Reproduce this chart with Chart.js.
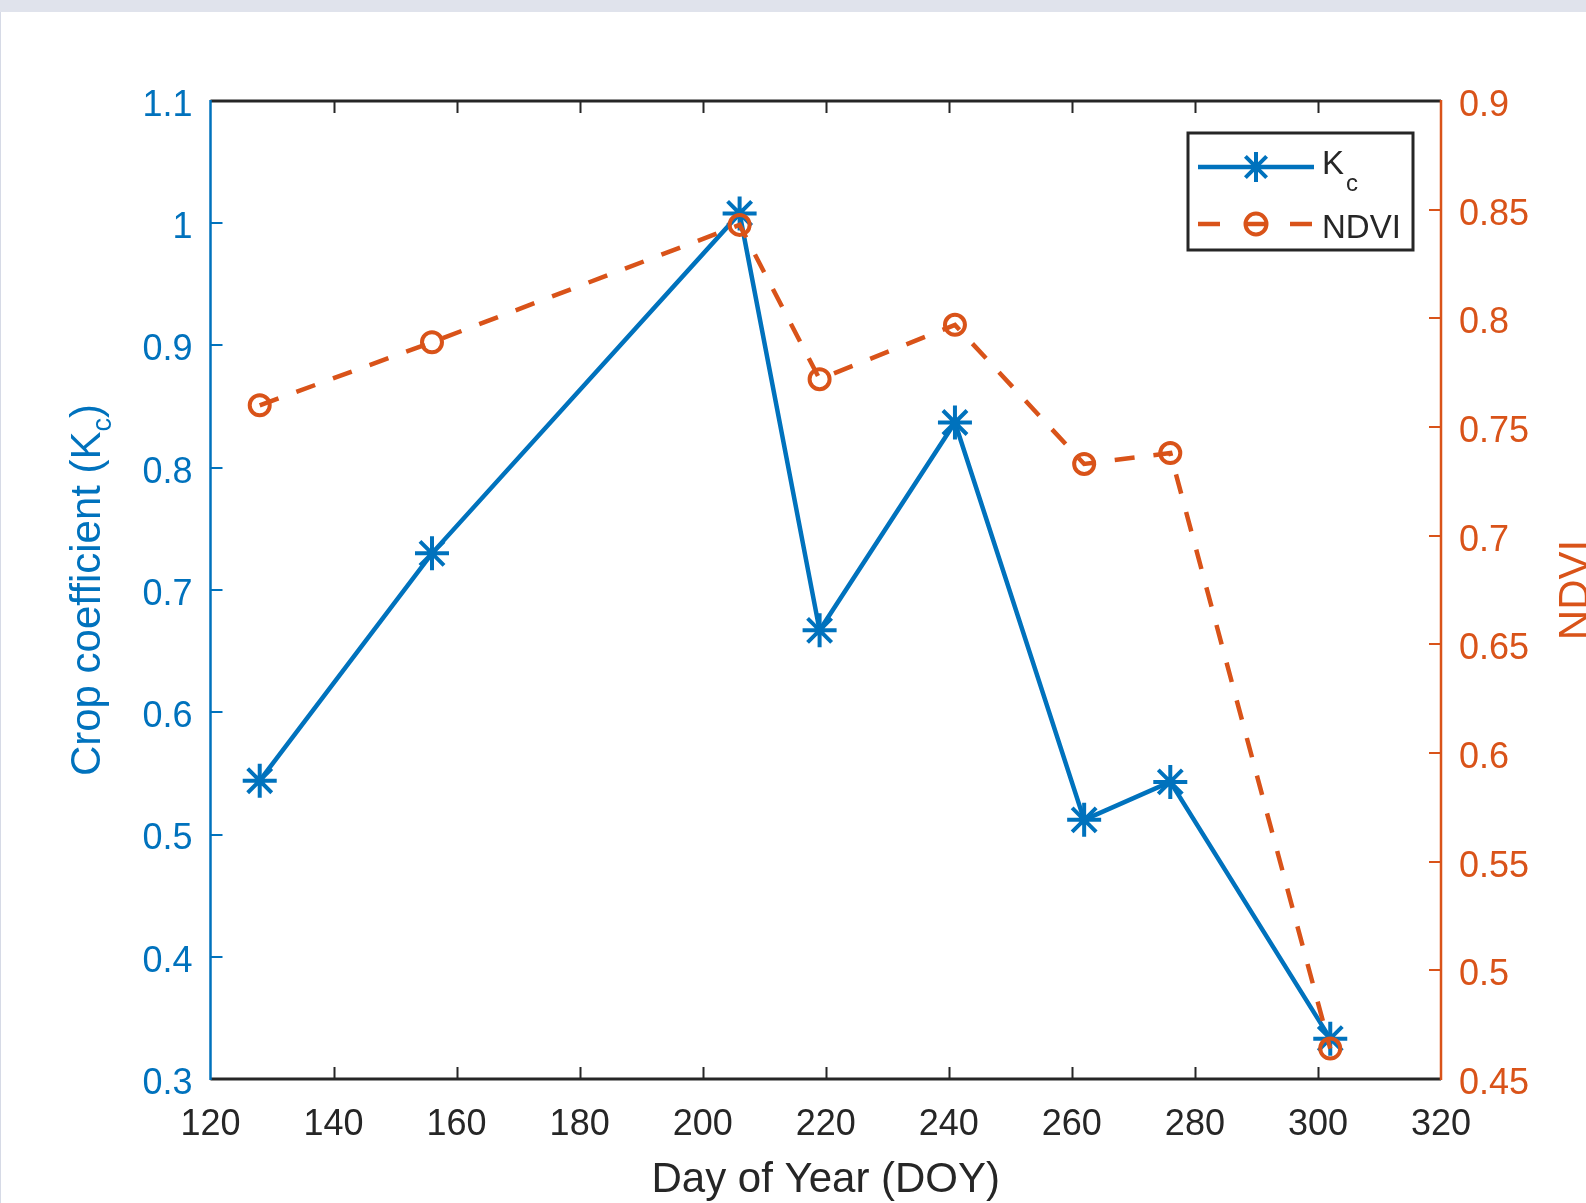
<!DOCTYPE html>
<html>
<head>
<meta charset="utf-8">
<script src="https://cdn.jsdelivr.net/npm/chart.js@4"></script>
<style>
  html, body { margin: 0; padding: 0; background: #fff; }
  #band { position: absolute; left: 0; top: 0; width: 1586px; height: 12px; background: #e0e3ec; }
  #edge { position: absolute; left: 0; top: 12px; width: 1px; height: 1191px; background: #d6dae6; }
  #wrap { position: absolute; left: 0; top: 0; width: 1586px; height: 1203px; }
</style>
</head>
<body>
<div id="band"></div>
<div id="edge"></div>
<div id="wrap"><canvas id="myChart" width="1586" height="1203"></canvas></div>
<script>
// day of year for each observation
const doy = [128, 156, 206, 219, 241, 262, 276, 302];
// crop coefficient (left axis)
const kc = [0.544, 0.730, 1.008, 0.667, 0.837, 0.512, 0.543, 0.333];
// NDVI (right axis)
const ndvi = [0.760, 0.789, 0.843, 0.772, 0.797, 0.733, 0.738, 0.464];

const xTicks = [120, 140, 160, 180, 200, 220, 240, 260, 280, 300, 320];
const kcTicks = [0.3, 0.4, 0.5, 0.6, 0.7, 0.8, 0.9, 1, 1.1];
const ndviTicks = [0.45, 0.5, 0.55, 0.6, 0.65, 0.7, 0.75, 0.8, 0.85, 0.9];

const BLUE = '#0072BD';
const ORANGE = '#D95319';
const DARK = '#262626';
const FONT = "'Liberation Sans', Arial, sans-serif";

// draws text made of pieces (for subscripts)
function drawParts(ctx, parts, x, y) {
  let total = 0;
  parts.forEach(p => {
    ctx.font = p.size + 'px ' + FONT;
    p.w = ctx.measureText(p.t).width;
    total += p.w;
  });
  let cx = x - total / 2;
  ctx.textAlign = 'left';
  ctx.textBaseline = 'alphabetic';
  parts.forEach(p => {
    ctx.font = p.size + 'px ' + FONT;
    ctx.fillText(p.t, cx, y + (p.dy || 0));
    cx += p.w;
  });
}

const matlabAxes = {
  id: 'matlabAxes',
  afterDatasetsDraw(chart) {
    const ctx = chart.ctx;
    const a = chart.chartArea;
    const sx = chart.scales.x, sy = chart.scales.y, sy1 = chart.scales.y1;
    const tl = 12;
    ctx.save();
    ctx.lineCap = 'butt';

    // ticks
    ctx.lineWidth = 2;
    ctx.strokeStyle = DARK;
    xTicks.forEach(v => {
      const px = Math.round(sx.getPixelForValue(v)) + 0.5;
      if (v === 120 || v === 320) return;
      ctx.beginPath();
      ctx.moveTo(px, a.bottom); ctx.lineTo(px, a.bottom - tl);
      ctx.moveTo(px, a.top); ctx.lineTo(px, a.top + tl);
      ctx.stroke();
    });
    ctx.strokeStyle = BLUE;
    kcTicks.forEach(v => {
      const py = Math.round(sy.getPixelForValue(v));
      ctx.beginPath();
      ctx.moveTo(a.left, py); ctx.lineTo(a.left + tl, py);
      ctx.stroke();
    });
    ctx.strokeStyle = ORANGE;
    ndviTicks.forEach(v => {
      const py = Math.round(sy1.getPixelForValue(v));
      ctx.beginPath();
      ctx.moveTo(a.right, py); ctx.lineTo(a.right - tl, py);
      ctx.stroke();
    });

    // box
    ctx.lineWidth = 3;
    ctx.strokeStyle = DARK;
    ctx.beginPath();
    ctx.moveTo(a.left, a.top); ctx.lineTo(a.right, a.top);
    ctx.moveTo(a.left, a.bottom); ctx.lineTo(a.right, a.bottom);
    ctx.stroke();
    ctx.lineWidth = 2.5;
    ctx.strokeStyle = BLUE;
    ctx.beginPath(); ctx.moveTo(a.left, a.top - 1); ctx.lineTo(a.left, a.bottom + 1); ctx.stroke();
    ctx.strokeStyle = ORANGE;
    ctx.beginPath(); ctx.moveTo(a.right, a.top - 1); ctx.lineTo(a.right, a.bottom + 1); ctx.stroke();

    // axis titles
    ctx.fillStyle = DARK;
    drawParts(ctx, [{t: 'Day of Year (DOY)', size: 42}], (a.left + a.right) / 2, 1192);

    const midY = (a.top + a.bottom) / 2;
    ctx.save();
    ctx.translate(100, midY);
    ctx.rotate(-Math.PI / 2);
    ctx.fillStyle = BLUE;
    drawParts(ctx, [
      {t: 'Crop coefficient (K', size: 42},
      {t: 'c', size: 27, dy: 11},
      {t: ')', size: 42}
    ], 0, 0);
    ctx.restore();

    ctx.save();
    ctx.translate(1588, midY);
    ctx.rotate(-Math.PI / 2);
    ctx.fillStyle = ORANGE;
    drawParts(ctx, [{t: 'NDVI', size: 42}], 0, 0);
    ctx.restore();

    // legend
    const lx = 1188, ly = 133, lw = 225, lh = 117;
    ctx.fillStyle = '#fff';
    ctx.fillRect(lx, ly, lw, lh);
    ctx.lineWidth = 3;
    ctx.strokeStyle = DARK;
    ctx.strokeRect(lx, ly, lw, lh);

    ctx.lineWidth = 4.5;
    ctx.strokeStyle = BLUE;
    ctx.beginPath(); ctx.moveTo(1198, 167); ctx.lineTo(1314, 167); ctx.stroke();
    ctx.lineWidth = 4;
    const r = 15;
    ctx.beginPath();
    for (let k = 0; k < 4; k++) {
      const ang = k * Math.PI / 4;
      ctx.moveTo(1256 - r * Math.cos(ang), 167 - r * Math.sin(ang));
      ctx.lineTo(1256 + r * Math.cos(ang), 167 + r * Math.sin(ang));
    }
    ctx.stroke();

    ctx.lineWidth = 4.5;
    ctx.strokeStyle = ORANGE;
    ctx.setLineDash([22, 24]);
    ctx.beginPath(); ctx.moveTo(1198, 224); ctx.lineTo(1314, 224); ctx.stroke();
    ctx.setLineDash([]);
    ctx.lineWidth = 4;
    ctx.beginPath(); ctx.arc(1256, 224, 10.5, 0, Math.PI * 2); ctx.stroke();

    ctx.fillStyle = DARK;
    ctx.textAlign = 'left';
    ctx.textBaseline = 'alphabetic';
    ctx.font = '33px ' + FONT;
    ctx.fillText('K', 1322, 174);
    const kw = ctx.measureText('K').width;
    ctx.font = '24px ' + FONT;
    ctx.fillText('c', 1322 + kw + 2, 191);
    ctx.font = '33px ' + FONT;
    ctx.fillText('NDVI', 1322, 238);

    ctx.restore();
  }
};

const ctx = document.getElementById('myChart');

new Chart(ctx, {
  type: 'line',
  data: {
    datasets: [
      {
        label: 'NDVI',
        data: doy.map((d, i) => ({x: d, y: ndvi[i]})),
        yAxisID: 'y1',
        borderColor: ORANGE,
        borderWidth: 4.5,
        borderDash: [20, 19],
        pointStyle: 'circle',
        pointRadius: 10,
        pointBorderWidth: 4,
        pointBorderColor: ORANGE,
        pointBackgroundColor: 'rgba(0,0,0,0)',
        tension: 0,
        fill: false
      },
      {
        label: 'Kc',
        data: doy.map((d, i) => ({x: d, y: kc[i]})),
        yAxisID: 'y',
        borderColor: BLUE,
        borderWidth: 4.5,
        pointStyle: 'star',
        pointRadius: 17,
        pointBorderWidth: 4,
        pointBorderColor: BLUE,
        pointBackgroundColor: BLUE,
        tension: 0,
        fill: false
      }
    ]
  },
  options: {
    responsive: false,
    animation: false,
    events: [],
    layout: { padding: { top: 101, left: 0, right: 0, bottom: 0 } },
    plugins: {
      legend: { display: false },
      tooltip: { enabled: false }
    },
    scales: {
      x: {
        type: 'linear',
        min: 120,
        max: 320,
        afterBuildTicks: s => { s.ticks = xTicks.map(v => ({value: v})); },
        afterFit: s => { s.height = 124; },
        grid: { display: false, drawTicks: false },
        border: { display: false },
        ticks: {
          color: DARK,
          padding: 24,
          maxRotation: 0,
          autoSkip: false,
          font: { family: FONT, size: 36 }
        }
      },
      y: {
        type: 'linear',
        position: 'left',
        min: 0.3,
        max: 1.1,
        afterBuildTicks: s => { s.ticks = kcTicks.map(v => ({value: v})); },
        afterFit: s => { s.width = 210.5; },
        grid: { display: false, drawTicks: false },
        border: { display: false },
        ticks: {
          color: BLUE,
          padding: 18,
          labelOffset: 5,
          autoSkip: false,
          font: { family: FONT, size: 36 },
          callback: v => String(+v.toFixed(2))
        }
      },
      y1: {
        type: 'linear',
        position: 'right',
        min: 0.45,
        max: 0.9,
        afterBuildTicks: s => { s.ticks = ndviTicks.map(v => ({value: v})); },
        afterFit: s => { s.width = 145; },
        grid: { display: false, drawTicks: false },
        border: { display: false },
        ticks: {
          color: ORANGE,
          padding: 18,
          labelOffset: 5,
          autoSkip: false,
          font: { family: FONT, size: 36 },
          callback: v => String(+v.toFixed(2))
        }
      }
    }
  },
  plugins: [matlabAxes]
});
</script>
</body>
</html>
